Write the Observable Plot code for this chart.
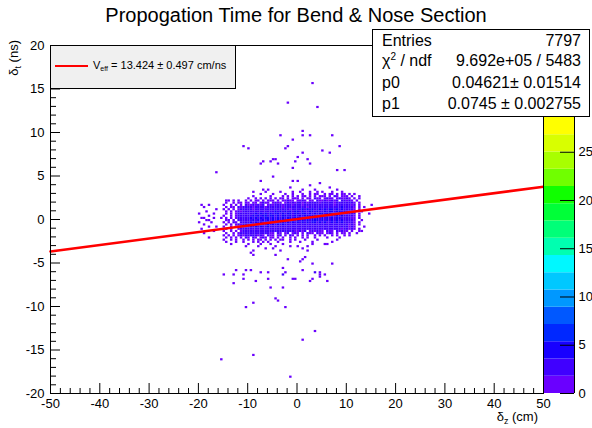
<!DOCTYPE html>
<html><head><meta charset="utf-8">
<script src="https://cdn.jsdelivr.net/npm/d3@7"></script>
<script src="https://cdn.jsdelivr.net/npm/@observablehq/plot@0.6"></script>
<style>
body{margin:0;background:#fff;font-family:"Liberation Sans",Arial,Helvetica,sans-serif;}
#wrap{position:relative;width:592px;height:428px;overflow:hidden;background:#fff;}
.abs{position:absolute;white-space:nowrap;color:#000;}
.box{position:absolute;box-sizing:border-box;border:1px solid #000;}
</style></head><body><div id="wrap"></div>
<script>
// ---------- data ----------
const titleText = "Propogation Time for Bend & Nose Section";
const xMajor = [-50, -40, -30, -20, -10, 0, 10, 20, 30, 40, 50];
const yMajor = [-20, -15, -10, -5, 0, 5, 10, 15, 20];
const cbTicks = [0, 5, 10, 15, 20, 25];
const palette = ["#6a00ff","#4000ff","#1800ff","#0028ff","#0058ff","#0098ff","#00c8ff","#00f8ff",
                 "#00ffb0","#00ff78","#00ff38","#10ff00","#70ff00","#a8ff00","#d8ff00","#ffff00"];
const zMax = 28.6;
// fitted line, read at the frame edges
const fitX = [-50, 50];
const fitY = [-3.68, 3.77];
// stats box
const statLabels = ["Entries", "χ<span style='font-size:10px;vertical-align:6px;line-height:0'>2</span> / ndf", "p0", "p1"];
const statValues = ["7797", "9.692e+05 / 5483", "0.04621± 0.01514", "0.0745 ± 0.002755"];
const legendText = "V<span style='font-size:7px;vertical-align:-2px;line-height:0'>eff</span> = 13.424 ± 0.497 cm/ns";

// 2D histogram core: bins 0.5 cm x 0.25 ns, columns from x=-20, rows from y=3.75 (lower edge) downward
const binW = 0.5, binH = 0.25, coreX0 = -20, coreYTop = 3.75;
const coreRows = [
"..........|..........|..........|..........|.....1....|..........|........",
"..........|..........|..........|.......1..|..........|...1......|........",
"..........|..........|........1.|..........|..1....1..|......1...|........",
"..........|..........|..1.......|...1....1.|.1...1....|1...1...1.|........",
"..........|..........|.....1....|1....1..1.|..1..1.1..|.1.11.1.11|.1.1....",
"..........|..........|..1......1|....1.1.1.|1.11.1.1.1|11.1.21.11|1.1..1..",
"..........|..........|1..1.1.1.1|.1.11.1.11|1.1.11.211|.1211.1211|21.1.1..",
"..........|..1.1.1..1|.1.11.1.11|1.1.11211.|1121.11.21|1211212.23|121.1...",
"..........|.1..1.11.1|1.11.1211.|1211.12121|2312123221|2322313223|2321.1..",
"....1.....|1..1.1.1.2|1121212.12|1223123212|3212322322|3232213232|3212.1..",
"..1.......|.1.11.2122|2312322132|2232132223|2323123232|2332323343|3221.1.1",
".......1..|1.1.1.1222|3213223232|2322332122|3343434334|3434434343|3321.1..",
"...1......|.1.1.12122|3232323223|3434343434|4343344343|3434434434|3231..1.",
"1.....1...|.1.1.12232|2334343434|3443434434|4345343434|4354343443|3322.1..",
"....1.....|1..1.12223|2343434434|4343543434|3434534343|4343434343|3221.1..",
".1....1..1|.1.1.12232|3434343543|4343434434|4453434343|4343434433|3211.1..",
"...1......|.11.1.2323|2343434343|4343454343|4343434543|4343434343|3221..1.",
"1....1....|1.1.21.223|3434343434|3434434343|4343434434|3433434343|3221.1..",
"..1.......|.1.1.12123|2343434343|4343433232|3232323223|2332323232|2121.1..",
"....1..1..|1..1.11222|3434343343|2322323223|2323232232|3223232322|2121...1",
".1........|.1.1..1222|3232332232|2322323232|2232322322|3223223212|2121.1..",
"......1...|1..1.1.122|2323232323|2323222321|1212.12121|1.211.2121|1.1..1..",
"..1.......|.1..1.1222|2322232321|1.21.12.12|1.1.211.21|1.121.1.11|.1..1...",
"..........|1.1.1.1212|2232121.21|1.12.1.21.|1.1.1..1.1|.1..1.1..1|.1......",
"....1.....|.1.1.1.1.2|1.21.121.1|1.1.1..1.1|..1.1..1..|..1....1..|........",
"..........|1..1.1..1.|1.1.11.1.1|.1.11..1.1|...1....1.|......1...|........",
"..........|.1...1..1.|..1.1.1.1.|..1....1..|.1....1...|....1.....|........",
"..........|...1......|1....1...1|....1.....|......1...|..1.......|........",
"..........|.........1|....1.....|.1.....1..|..........|..........|........",
"..........|..........|.......1..|..........|..1.......|..........|........",
"..........|..........|..1.......|...1......|....1.....|..........|........"
];
// isolated entries outside the core
const outlierX = [3.0,-2.0,4.1,-3.2,1.3,1.0,2.8,7.4,-1.0,-1.6,-2.2,-11.0,-9.7,8.7,5.1,6.7,1.0,0.0,2.0,-4.4,-4.7,-5.1,-6.6,-7.1,-3.8,-0.2,2.6,-0.75,8.4,9.7,-16.3,-4.7,-7.4,-1.0,0.2,4.6,-6.9,-6.1,4.1,4.4,-14.2,-19.5,-18.9,-17.9,13.2,14.9,15.2,
  -8.9,-4.1,-1.6,0.9,1.3,1.7,3.3,7.2,-12.2,-10.4,-9.1,-15.0,-12.7,-10.9,-10.7,-12.7,-8.4,-7.4,-6.0,-5.8,-3.0,-3.0,-3.0,-2.5,-0.6,-0.3,1.3,3.6,3.8,4.9,4.7,4.7,5.7,3.1,2.6,6.1,-5.3,-3.0,-4.1,-3.8,-8.7,-10.1,-2.5,3.6,1.3,-8.9,-15.5,-1.5,0.3,2.0,-4.9,-9.1,5.9];
const outlierY = [15.7,13.3,12.9,9.7,10.1,9.5,9.5,9.5,9.0,8.4,8.2,8.4,8.0,8.4,7.9,7.5,7.7,7.2,6.9,6.9,6.9,6.7,6.5,6.4,6.4,6.5,6.4,5.9,5.7,5.7,5.4,4.9,4.3,4.3,4.3,4.0,3.4,3.1,3.2,2.95,2.1,1.5,0.1,-0.1,-1.3,0.7,1.6,
  -4.1,-4.2,-4.6,-4.8,-4.6,-4.4,-5.2,-5.1,-5.8,-5.8,-5.8,-6.4,-6.4,-6.4,-6.9,-7.4,-7.1,-6.2,-6.1,-6.8,-5.6,-6.4,-6.5,-6.2,-6.8,-6.8,-5.9,-6.2,-6.2,-6.2,-6.5,-6.7,-6.4,-6.9,-7.1,-7.2,-7.8,-8.0,-9.2,-9.4,-9.7,-10.1,-10.1,-12.9,-13.8,-15.6,-16.2,-18.2,-3.1,-3.2,-3.5,-4.0,-3.0];

// ---------- build bins ----------
const counts = new Map();
function add(ix, iy, n) { const k = ix + "," + iy; counts.set(k, (counts.get(k) || 0) + n); }
coreRows.forEach((row, r) => {
  const s = row.replace(/\|/g, "");
  for (let c = 0; c < s.length; c++) {
    const ch = s[c];
    if (ch >= "1" && ch <= "9") add(Math.round(coreX0 / binW) + c, Math.round(coreYTop / binH) - r, +ch);
  }
});
outlierX.forEach((x, i) => add(Math.floor(x / binW), Math.floor(outlierY[i] / binH), 1));
const cells = Array.from(counts, ([k, n]) => {
  const [ix, iy] = k.split(",").map(Number);
  return {x1: ix * binW, x2: (ix + 1) * binW, y1: iy * binH, y2: (iy + 1) * binH, n};
});
const nLevels = palette.length;
const thresholds = d3.range(1, nLevels).map(i => i * zMax / nLevels);
const bands = palette.map((c, i) => ({lo: i * zMax / nLevels, hi: (i + 1) * zMax / nLevels, c}));
const xMinor = d3.range(-50, 51, 2).filter(v => v % 10 !== 0);
const yMinor = d3.range(-20, 21, 1).filter(v => v % 5 !== 0);
const fit = fitX.map((x, i) => ({x, y: fitY[i]}));

// ---------- layout ----------
const W = 592, H = 428, mL = 50, mR = 49, mT = 45, mB = 35;
const plotW = W - mL - mR, plotH = H - mT - mB;
const font = "'Liberation Sans', Arial, Helvetica, sans-serif";
const wrap = document.getElementById("wrap");

const main = Plot.plot({
  width: W, height: H, marginLeft: mL, marginRight: mR, marginTop: mT, marginBottom: mB,
  x: {domain: [-50, 50], axis: null},
  y: {domain: [-20, 20], axis: null},
  color: {type: "threshold", domain: thresholds, range: palette},
  style: {fontFamily: font, fontSize: "13px", background: "white", color: "black"},
  marks: [
    Plot.rect(cells, {x1: "x1", x2: "x2", y1: "y1", y2: "y2", fill: "n"}),
    Plot.line(fit, {x: "x", y: "y", stroke: "#ff0000", strokeWidth: 2.6}),
    Plot.tickX(xMinor, {x: d => d, insetTop: plotH - 5, stroke: "black"}),
    Plot.tickX(xMajor, {x: d => d, insetTop: plotH - 10, stroke: "black"}),
    Plot.tickY(yMinor, {y: d => d, insetRight: plotW - 6, stroke: "black"}),
    Plot.tickY(yMajor, {y: d => d, insetRight: plotW - 10, stroke: "black"}),
    Plot.frame({stroke: "black"}),
    Plot.axisX({ticks: xMajor, tickSize: 0, tickPadding: 5, label: null, tickFormat: d => String(d)}),
    Plot.axisY({ticks: yMajor, tickSize: 0, tickPadding: 6, label: null, tickFormat: d => String(d)})
  ]
});
wrap.appendChild(main);

const cb = Plot.plot({
  width: W, height: H, marginLeft: 544, marginRight: 18, marginTop: 117, marginBottom: 35,
  x: {domain: [0, 1], axis: null},
  y: {domain: [0, zMax], axis: null},
  color: {type: "identity"},
  style: {position: "absolute", left: "0px", top: "0px", background: "transparent", fontFamily: font, fontSize: "13px", color: "black"},
  marks: [
    Plot.rect(bands, {y1: "lo", y2: "hi", fill: "c"}),
    Plot.ruleX([1], {stroke: "black"}),
    Plot.tickY(cbTicks, {y: d => d, insetLeft: 16, stroke: "black"}),
    Plot.text(cbTicks, {y: d => d, x: 1, dx: 4, textAnchor: "start", text: d => String(d), fill: "black"})
  ]
});
wrap.appendChild(cb);

// ---------- text annotations ----------
function lab(html, x, baseline, size, align) {
  const d = document.createElement("div");
  d.className = "abs";
  d.innerHTML = html;
  d.style.fontSize = size + "px";
  d.style.lineHeight = size + "px";
  d.style.top = (baseline - 0.8465 * size) + "px";
  if (align === "center") { d.style.left = (x - 300) + "px"; d.style.width = "600px"; d.style.textAlign = "center"; }
  else if (align === "right") { d.style.left = (x - 600) + "px"; d.style.width = "600px"; d.style.textAlign = "right"; }
  else d.style.left = x + "px";
  wrap.appendChild(d);
  return d;
}
function box(l, t, w, h, bg) {
  const d = document.createElement("div");
  d.className = "box";
  Object.assign(d.style, {left: l + "px", top: t + "px", width: w + "px", height: h + "px", background: bg});
  wrap.appendChild(d);
  return d;
}
lab(titleText, 296, 22, 20, "center");
// stats box
box(372, 29, 218, 88, "#ffffff");
const statBase = [47, 67, 89, 110];
statLabels.forEach((t, i) => lab(t, 382, statBase[i], 16));
statValues.forEach((t, i) => lab(t, 581, statBase[i], 16, "right"));
// legend
box(50, 45, 186, 44, "#f0f0f0");
const sw = document.createElement("div");
Object.assign(sw.style, {position: "absolute", left: "55px", top: "64.8px", width: "33px", height: "2.5px", background: "#ff0000"});
wrap.appendChild(sw);
lab(legendText, 93, 69, 11);
// axis titles
lab("δ<span style='font-size:9px;vertical-align:-3px;line-height:0'>z</span> (cm)", 538, 421, 13, "right");
const yl = document.createElement("div");
yl.className = "abs";
yl.innerHTML = "δ<span style='font-size:9px;vertical-align:-3px;line-height:0'>t</span> (ns)";
Object.assign(yl.style, {left: "7px", top: "120px", width: "80px", textAlign: "right", fontSize: "13px", lineHeight: "14px",
  transformOrigin: "0 0", transform: "rotate(-90deg)"});
wrap.appendChild(yl);
</script></body></html>
